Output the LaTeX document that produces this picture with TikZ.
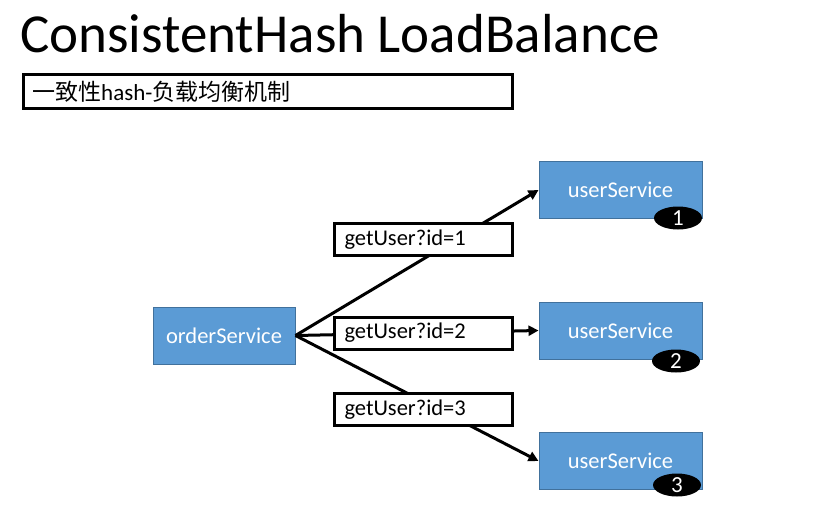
\documentclass[tikz,border=0pt]{standalone}
\usepackage{fontspec}
\setmainfont{Carlito}
\newfontfamily\cjk{Noto Sans CJK SC}
\usetikzlibrary{arrows.meta,shapes.geometric}
\definecolor{svcblue}{HTML}{5B9BD5}
\definecolor{svcborder}{HTML}{41719C}
\begin{document}
\begin{tikzpicture}[x=1pt,y=-1pt,
  svc/.style={draw=svcborder, fill=svcblue, line width=1pt, text=white,
    font=\fontsize{22.5}{26}\selectfont, minimum height=57pt, inner sep=0pt},
  reqbox/.style={draw=black, fill=white, line width=3pt, text=black,
    font=\fontsize{22.5}{26}\selectfont, text width=158pt, align=left,
    inner xsep=10pt, inner ysep=0pt, minimum height=32pt},
  badge/.style={ellipse, fill=black, text=white, minimum width=48pt,
    minimum height=23pt, inner sep=0pt, font=\fontsize{23}{26}\selectfont},
  conn/.style={draw=black, line width=3pt, -{Triangle[length=10pt,width=10pt]}}
]
\useasboundingbox (0,0) rectangle (819,507);
\fill[white] (0,0) rectangle (819,507);

\node[anchor=base west, inner sep=0pt, font=\fontsize{55}{60}\selectfont] (title) at (20,52) {ConsistentHash LoadBalance};
\node[draw=black, line width=3pt, minimum width=489pt, minimum height=34pt, inner sep=0pt] (sub) at (268,91.5) {};
\node[anchor=west, inner sep=0pt, font=\fontsize{23}{26}\selectfont] (subt) at (32,91.5) {{\cjk 一致性}hash-{\cjk 负载均衡机制}};

\node[svc, minimum width=142pt] (os) at (224,335.5) {orderService};
\node[svc, minimum width=163pt] (us1) at (620.5,190) {userService};
\node[svc, minimum width=163pt] (us2) at (620.5,330.5) {userService};
\node[svc, minimum width=163pt] (us3) at (620.5,461) {userService};

\node[badge] (b1) at (678,218) {1};
\node[badge] (b2) at (676,361) {2};
\node[badge] (b3) at (677,485) {3};

\draw[conn] (os.east) -- (us1.west);
\draw[conn] (os.east) -- (us2.west);
\draw[conn] (os.east) -- (us3.west);

\node[reqbox] (r1) at (423.5,239.5) {getUser?id=1};
\node[reqbox] (r2) at (423.5,333) {getUser?id=2};
\node[reqbox] (r3) at (423.5,409.5) {getUser?id=3};
\end{tikzpicture}
\end{document}
